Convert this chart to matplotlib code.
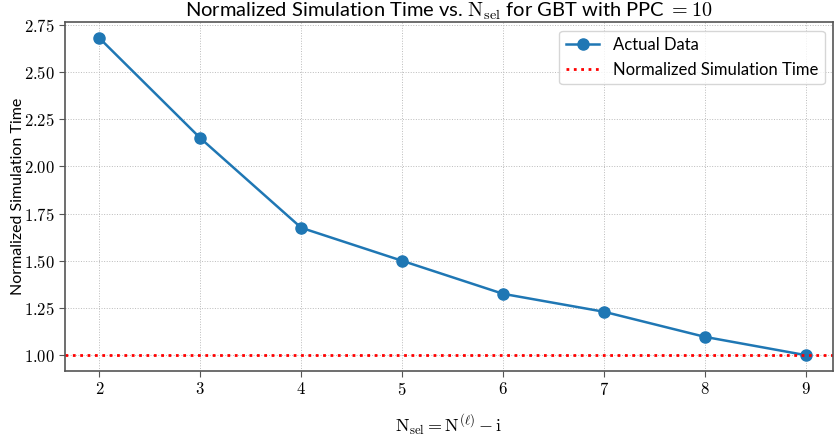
import matplotlib
matplotlib.use("Agg")
import matplotlib.pyplot as plt

# data
n_sel = [2, 3, 4, 5, 6, 7, 8, 9]
norm_time = [2.68, 2.15, 1.675, 1.50, 1.325, 1.23, 1.097, 1.00]
baseline = 1.0
y_ticks = [1.00, 1.25, 1.50, 1.75, 2.00, 2.25, 2.50, 2.75]

plt.rcParams['font.family'] = ['Lato', 'DejaVu Sans']
plt.rcParams['mathtext.fontset'] = 'cm'

fig = plt.figure(figsize=(8.34, 4.36), dpi=100)
ax = fig.add_axes([0.078, 0.149, 0.921, 0.800])

ax.plot(n_sel, norm_time, '-o', color='#1f77b4', lw=1.8, ms=8, label='Actual Data')
ax.axhline(baseline, color='red', ls=':', lw=2, label='Normalized Simulation Time')

ax.set_xlim(1.66, 9.27)
ax.set_xticks(n_sel)
ax.set_xticklabels([f'${v}$' for v in n_sel])
ax.set_yticks(y_ticks)
ax.set_yticklabels([f'${v:.2f}$' for v in y_ticks])
ax.tick_params(labelsize=12, color='#555555', length=4)

ax.grid(True, ls=':', color='#bbbbbb', lw=0.7)
for s in ax.spines.values():
    s.set_color('#555555')
    s.set_linewidth(1.2)

ax.set_title(r'Normalized Simulation Time vs. $\mathrm{N_{sel}}$ for GBT with PPC $= 10$',
             fontsize=14.5, pad=4)
ax.set_xlabel(r'$\mathrm{N_{sel} = N^{(\ell)} - i}$', fontsize=13, labelpad=10)
ax.set_ylabel('Normalized Simulation Time', fontsize=11.5, labelpad=-1)
ax.legend(fontsize=12, loc='upper right')

fig.savefig('out.png', dpi=100)
